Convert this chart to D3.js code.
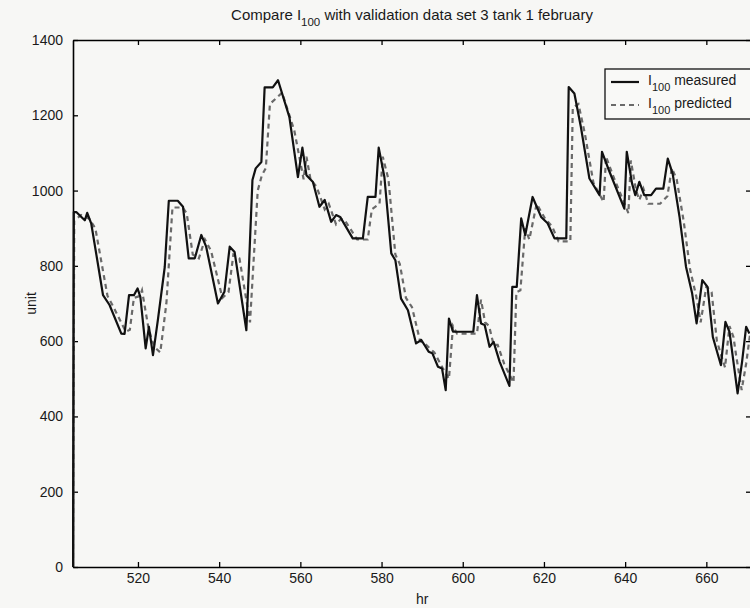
<!DOCTYPE html>
<html>
<head>
<meta charset="utf-8">
<script src="https://cdn.jsdelivr.net/npm/d3@7"></script>
<style>
  body { margin: 0; background: #f7f7f5; }
  text { font-family: "Liberation Sans", Arial, sans-serif; fill: #1a1a1a; }
</style>
</head>
<body>
<div id="chart"></div>
<script>
// measured I100, [hr, unit]
const measured = [
  [504,0],[504.2,943],[504.8,943],[506.9,921],[507.5,941],[508.5,912],[511.4,722],[513,696],
  [515.9,620],[516.7,619],[517.8,722],[519,722],[519.9,740],[520.6,717],[521.9,581],[522.7,638],
  [523.7,563],[524.9,656],[526.6,797],[527.6,973],[529.8,973],[531.1,957],[532.5,820],[534,820],
  [535.6,882],[536.8,851],[539.7,700],[541.3,731],[542.6,851],[543.8,837],[546.7,629],[548.2,1028],
  [549,1059],[550.4,1076],[551.2,1274],[553.2,1274],[554.5,1293],[557.3,1195],[559.4,1036],[560.5,1114],
  [561.5,1041],[563.1,1023],[564.7,957],[566,975],[567.6,917],[568.8,935],[569.8,930],[572.9,873],
  [575.4,873],[576.6,983],[578.5,983],[579.3,1114],[580.7,1036],[582.4,833],[583.4,815],[584.8,713],
  [586.5,682],[588.5,594],[589.8,603],[591.6,572],[592.5,568],[593.9,532],[594.9,527],[595.8,470],
  [596.6,660],[597.6,625],[602.6,625],[603.5,722],[604.5,647],[605.4,643],[606.6,585],[607.6,598],
  [609.1,545],[611.5,481],[612.2,744],[613.3,744],[614.4,926],[615.4,882],[617.2,983],[619.3,930],
  [620.9,913],[622.6,873],[625.5,873],[626.1,1275],[627.5,1258],[629.1,1169],[631.2,1032],[633.7,988],
  [634.3,1103],[636,1054],[639.8,952],[640.4,1103],[641.7,1019],[642.5,988],[643.5,1023],[644.7,988],
  [646.4,988],[647.6,1005],[649.4,1005],[650.5,1085],[651.7,1045],[653.4,930],[655,797],[656.5,727],
  [657.6,647],[659,762],[660.3,744],[661.6,611],[663.6,536],[664.7,651],[665.7,625],[666.3,576],
  [667.7,461],[668.8,545],[669.8,638],[670.6,620]
];

// predicted I100, [hr, unit]
const predicted = [
  [504,0],[504.3,920],[506,935],[508,925],[509.5,900],[512.5,720],[514,690],[517,625],
  [518,630],[519,715],[520.5,720],[521,735],[522.5,640],[523.5,600],[524.5,580],[525.5,570],
  [527,700],[528.5,955],[531,955],[532,940],[533.5,830],[535,820],[536.5,870],[538,840],
  [540.8,715],[542.3,730],[543.5,830],[545,820],[547.6,650],[549.5,1000],[550.5,1040],[551.5,1060],
  [552.5,1230],[554.5,1250],[555.5,1260],[558.5,1160],[560.8,1030],[561.5,1090],[562.5,1030],[564,1010],
  [566,950],[567,965],[568.8,910],[570,925],[571,920],[574,870],[576.6,870],[577.6,950],
  [579.5,965],[580.3,1090],[581.7,1030],[583.4,830],[584.5,805],[586,715],[587.5,690],[589.5,600],
  [591,590],[593,570],[595,530],[596.6,500],[597.6,640],[598.6,620],[603.5,620],[604.5,710],
  [605.5,650],[606.5,640],[607.6,590],[608.6,590],[610.2,540],[612.5,490],[613.2,730],[614.2,735],
  [615.4,900],[616.4,870],[618.2,965],[620.3,925],[622,905],[623.6,865],[626.5,865],[627.1,1220],
  [628.5,1230],[630.1,1150],[632.2,1020],[634.7,970],[635.3,1090],[637,1040],[640.8,940],[641.4,1080],
  [642.7,1000],[643.5,975],[644.5,1005],[645.7,965],[648.6,965],[650.4,985],[651.5,1060],[652.7,1030],
  [654.4,920],[656,790],[657.5,720],[658.6,650],[660,745],[661.3,730],[662.6,600],[664.6,530],
  [665.7,640],[666.7,610],[667.3,565],[668.7,470],[669.8,540],[670.8,620]
];

const xTicks = [520, 540, 560, 580, 600, 620, 640, 660];
const yTicks = [0, 200, 400, 600, 800, 1000, 1200, 1400];

const width = 750, height = 608;
const margin = { top: 40, right: 0, bottom: 41, left: 73 };
const innerW = 678, innerH = height - margin.top - margin.bottom;

const svg = d3.select("#chart").append("svg")
    .attr("width", width)
    .attr("height", height);

const x = d3.scaleLinear().domain([504, 671]).range([0, innerW]);
const y = d3.scaleLinear().domain([0, 1400]).range([innerH, 0]);

const g = svg.append("g")
    .attr("transform", "translate(" + margin.left + "," + margin.top + ")");

// title
let title = svg.append("text")
    .attr("x", 412)
    .attr("y", 20)
    .attr("text-anchor", "middle")
    .style("font-size", "15px");
title.append("tspan").text("Compare I");
title.append("tspan").attr("dy", 6).style("font-size", "11.5px").text("100");
title.append("tspan").attr("dy", -6).text(" with validation data set 3 tank 1 february");

g.append("clipPath").attr("id", "clip")
    .append("rect").attr("x", -1).attr("y", -1).attr("width", innerW + 2).attr("height", innerH + 2);

// axes, ticks pointing inward
g.append("g")
    .attr("transform", "translate(0," + innerH + ")")
    .call(d3.axisBottom(x).tickValues(xTicks).tickSizeInner(-5).tickSizeOuter(0).tickPadding(6))
    .call(a => a.select(".domain").attr("stroke-width", 1.6))
    .call(a => a.selectAll("text").style("font-size", "14px"));

g.append("g")
    .call(d3.axisTop(x).tickValues(xTicks).tickSizeInner(-5).tickSizeOuter(0).tickFormat(""))
    .call(a => a.select(".domain").attr("stroke-width", 1.6));

g.append("g")
    .call(d3.axisLeft(y).tickValues(yTicks).tickFormat(d3.format("d")).tickSizeInner(-5).tickSizeOuter(0).tickPadding(10))
    .call(a => a.select(".domain").attr("stroke-width", 1.6))
    .call(a => a.selectAll("text").style("font-size", "14px"));

g.append("g")
    .attr("transform", "translate(" + innerW + ",0)")
    .call(d3.axisRight(y).tickValues(yTicks).tickSizeInner(-5).tickSizeOuter(0).tickFormat(""))
    .call(a => a.select(".domain").attr("stroke-width", 1.6));

g.selectAll(".tick line").attr("stroke-width", 1.3);

// axis labels
svg.append("text")
    .attr("x", margin.left + x(590))
    .attr("y", 604)
    .attr("text-anchor", "middle")
    .style("font-size", "14px")
    .text("hr");

svg.append("text")
    .attr("transform", "translate(36," + (margin.top + y(700)) + ") rotate(-90)")
    .attr("text-anchor", "middle")
    .style("font-size", "14px")
    .text("unit");

// lines
const line = d3.line().x(d => x(d[0])).y(d => y(d[1]));
const plot = g.append("g").attr("clip-path", "url(#clip)");

plot.append("path")
    .datum(predicted)
    .attr("d", line)
    .attr("fill", "none")
    .attr("stroke", "#6a6a6a")
    .attr("stroke-width", 2.2)
    .attr("stroke-dasharray", "5,4");

plot.append("path")
    .datum(measured)
    .attr("d", line)
    .attr("fill", "none")
    .attr("stroke", "#111")
    .attr("stroke-width", 2.2)
    .attr("stroke-linejoin", "round");

// legend
let legend = svg.append("g").attr("transform", "translate(605,69)");
legend.append("rect")
    .attr("width", 150).attr("height", 50)
    .attr("fill", "#f9f9f7").attr("stroke", "#111").attr("stroke-width", 1.3);

const legendItems = [
  { label: "measured", dash: null, color: "#111" },
  { label: "predicted", dash: "5,4", color: "#6a6a6a" }
];
legendItems.forEach((d, i) => {
    let row = legend.append("g").attr("transform", "translate(0," + (13 + i * 23) + ")");
    row.append("line")
        .attr("x1", 6).attr("x2", 34).attr("y1", 0).attr("y2", 0)
        .attr("stroke", d.color).attr("stroke-width", 2.2)
        .attr("stroke-dasharray", d.dash);
    let t = row.append("text").attr("x", 43).attr("y", 3).style("font-size", "14px");
    t.append("tspan").text("I");
    t.append("tspan").attr("dy", 6).style("font-size", "11px").text("100");
    t.append("tspan").attr("dy", -6).text(" " + d.label);
});
</script>
</body>
</html>
